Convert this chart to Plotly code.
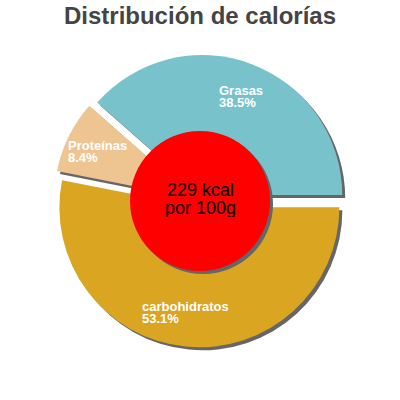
import math
import plotly.graph_objects as go

# Data
nutrientes = ['Grasas', 'Proteínas', 'carbohidratos']
porcentajes = [38.5, 8.4, 53.1]
colores = ['#78C3CB', '#EEC591', '#DAA520']
kcal = 229

# Geometry (pixels on a 400x400 page)
W = H = 400
cx, cy = 200, 201
R = 140
pull = 0.045
shadow_off = 3
hole_r = 70


def dom(x0, y0, half):
    return dict(x=[(x0 - half) / W, (x0 + half) / W],
                y=[1 - (y0 + half) / H, 1 - (y0 - half) / H])


# first slice starts at 3 o'clock and runs counterclockwise
rot = 90 - porcentajes[0] / 100 * 360
half = R * (1 + pull)
pie_args = dict(values=porcentajes, labels=nutrientes, sort=False,
                direction='counterclockwise', rotation=rot,
                pull=[pull] * len(porcentajes), textinfo='none',
                hoverinfo='skip', showlegend=False)

fig = go.Figure()

# Shadow of the pie
fig.add_trace(go.Pie(**pie_args, domain=dom(cx + shadow_off, cy + shadow_off, half),
                     marker=dict(colors=['#666666'] * 3, line=dict(width=0))))
# Pie
fig.add_trace(go.Pie(**pie_args, domain=dom(cx, cy, half),
                     marker=dict(colors=colores, line=dict(width=0))))
# Center disc shadow and disc
fig.add_trace(go.Pie(values=[kcal], sort=False, textinfo='none', hoverinfo='skip',
                     showlegend=False, domain=dom(cx + shadow_off, cy + shadow_off, hole_r),
                     marker=dict(colors=['#666666'], line=dict(width=0))))
fig.add_trace(go.Pie(values=[kcal], sort=False, textinfo='none', hoverinfo='skip',
                     showlegend=False, domain=dom(cx, cy, hole_r),
                     marker=dict(colors=['#FF0000'], line=dict(width=0))))


def line(x, y, txt, font, h, anchor='left'):
    fig.add_annotation(x=x / W, y=1 - y / H, xref='paper', yref='paper', text=txt,
                       showarrow=False, xanchor=anchor, yanchor='middle',
                       height=h, font=font)


# Slice labels along each bisector
fs = 13
lab_font = dict(family='Liberation Sans, Arial', size=fs, color='white')
start = 0.0
for name, pct in zip(nutrientes, porcentajes):
    mid = math.radians((start + pct / 2) / 100 * 360)
    start += pct
    px = cx + 0.8 * R * math.cos(mid)
    py = cy - 0.8 * R * math.sin(mid)
    left = px - 0.58 * fs * len(name) / 2
    line(left, py - 6, '<b>%s</b>' % name, lab_font, 12)
    line(left, py + 6, '<b>%.1f%%</b>' % pct, lab_font, 12)

# Center text
c_font = dict(family='Liberation Sans, Arial', size=18, color='black')
line(cx, cy - 11, '%d kcal' % kcal, c_font, 18, 'center')
line(cx, cy + 7, 'por 100g', c_font, 18, 'center')

fig.update_layout(
    width=W, height=H,
    margin=dict(l=0, r=0, t=0, b=0),
    paper_bgcolor='white',
    title=dict(text='<b>Distribución de calorías</b>', x=0.5, xanchor='center',
               y=1 - 7 / H, yanchor='top', yref='container',
               font=dict(family='Liberation Sans, Arial', size=24, color='#444444')),
)

# drop the browser's default body margin so the figure fills the window
fig.write_html('out.html', config={'displayModeBar': False},
               post_script="document.body.style.margin='0';")
